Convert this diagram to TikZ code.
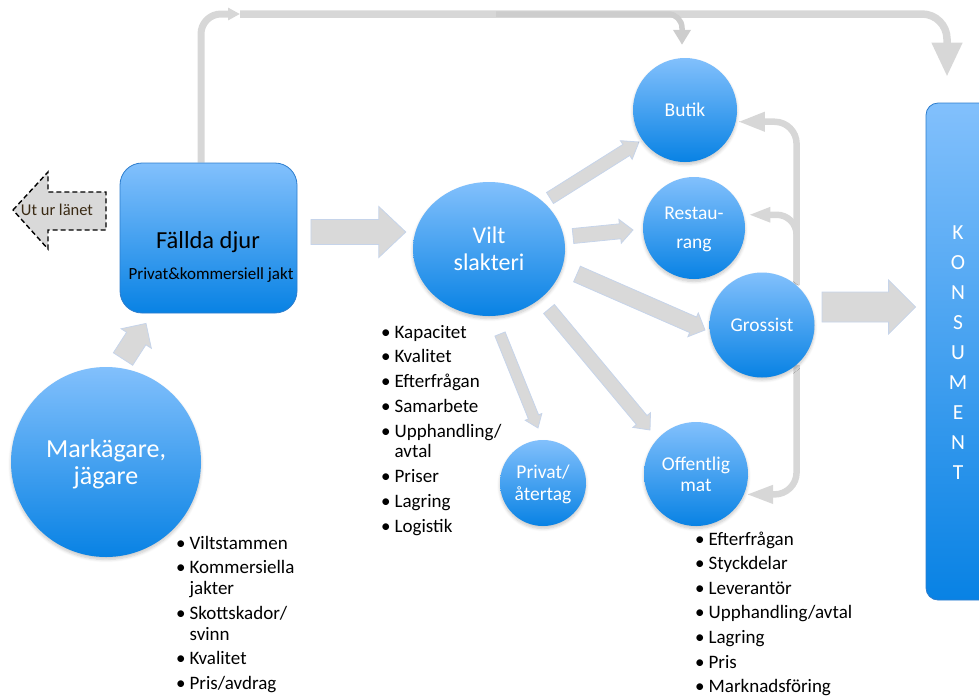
\documentclass[tikz,border=0pt]{standalone}
\usepackage{fontspec}
\setmainfont{Carlito}
\usetikzlibrary{calc,arrows.meta,shapes.geometric,shadows.blur}

\definecolor{bluetop}{RGB}{130,192,252}
\definecolor{bluebot}{RGB}{8,130,228}
\definecolor{blueedge}{RGB}{45,125,205}
\definecolor{flowgray}{RGB}{217,217,217}
\definecolor{flowedge}{RGB}{198,212,234}
\definecolor{linkgray}{RGB}{215,215,215}
\definecolor{branchgray}{RGB}{205,205,205}
\definecolor{outtext}{RGB}{58,42,20}

\pgfdeclarelayer{background}
\pgfsetlayers{background,main}

\tikzset{
  bubble/.style={circle, inner sep=0pt, top color=bluetop, bottom color=bluebot,
    text=white, align=center, text depth=0pt,
    blur shadow={shadow xshift=0pt, shadow yshift=-2.5pt, shadow blur radius=3pt,
      shadow blur steps=6, shadow opacity=22}},
  bluebox/.style={rectangle, inner sep=0pt, top color=bluetop, bottom color=bluebot,
    draw=blueedge, line width=0.8pt},
  blockfill/.style={fill=flowgray, draw=flowedge, line width=0.8pt, line join=miter},
  link/.style={draw=linkgray, line width=6.5pt},
  listtext/.style={inner sep=0pt, anchor=base west, font=\fontsize{19}{21}\selectfont},
}

% block arrow: #1 start, #2 tip, #3 half shaft width, #4 half head width, #5 head length
\newcommand{\flowarrow}[5]{%
  \coordinate (fa-h) at ($(#2)!#5!(#1)$);
  \filldraw[blockfill]
    ($(#1)!#3!90:(#2)$) -- ($(fa-h)!#3!90:(#2)$) -- ($(fa-h)!#4!90:(#2)$) -- (#2)
    -- ($(fa-h)!#4!-90:(#2)$) -- ($(fa-h)!#3!-90:(#2)$) -- ($(#1)!#3!-90:(#2)$) -- cycle;
}

\begin{document}
\begin{tikzpicture}[x=1pt, y=-1pt]
\useasboundingbox (0,0) rectangle (979,697);

% ---- main nodes ----
\node[bluebox, rounded corners=22pt, minimum width=177pt, minimum height=150pt] (fallda) at (208.5,238) {};
\node[anchor=base, inner sep=0pt, font=\fontsize{24.5}{26}\selectfont] (fallda-title) at (208,248) {Fällda djur};
\node[anchor=base, inner sep=0pt, font=\fontsize{17}{19}\selectfont] (fallda-sub) at (211,279) {Privat\&kommersiell jakt};

\node[bubble, minimum size=190pt, font=\fontsize{26}{27}\selectfont] (mark) at (106,462) {Markägare,\\jägare};
\node[bubble, ellipse, minimum width=152pt, minimum height=134pt, font=\fontsize{24}{27}\selectfont] (vilt) at (489,249) {Vilt\\slakteri};
\node[bubble, minimum size=104pt, font=\fontsize{19.5}{22}\selectfont] (butik) at (685,110) {Butik};
\node[bubble, minimum size=102pt, font=\fontsize{19.5}{29}\selectfont] (rest) at (694,228) {Restau-\\rang};
\node[bubble, minimum size=105pt, font=\fontsize{19.5}{22}\selectfont] (gross) at (762,325) {Grossist};
\node[bubble, minimum size=104pt, font=\fontsize{19.5}{21}\selectfont] (offen) at (696,474) {Offentlig\\mat};
\node[bubble, minimum size=86pt, font=\fontsize{19.5}{22}\selectfont] (privat) at (543,483) {Privat/\\återtag};

\node[bluebox, rounded corners=12pt, minimum width=90pt, minimum height=497pt] (kons) at (971,351.5) {};
\node[text=white, align=center, inner sep=0pt, font=\fontsize{21.5}{30}\selectfont] (kons-text) at (958,353) {K\\O\\N\\S\\U\\M\\E\\N\\T};

% ---- outgoing arrow to the left ----
\filldraw[fill=flowgray, draw=black, line width=1.4pt, dash pattern=on 5pt off 3pt]
  (13,210) -- (48,172) -- (48,192) -- (106,192) -- (106,230) -- (48,230) -- (48,249) -- cycle;
\node[text=outtext, inner sep=0pt, font=\fontsize{16.5}{18}\selectfont] (utur) at (57,210) {Ut ur länet};

% ---- bullet lists ----
\node[listtext] (mark-list) at (176,549) {\begin{tabular}[t]{@{}l@{\hspace{4pt}}l@{}}
\textbullet & Viltstammen\\[3.5pt]
\textbullet & Kommersiella\\
 & jakter\\[3.5pt]
\textbullet & Skottskador/\\
 & svinn\\[3.5pt]
\textbullet & Kvalitet\\[3.5pt]
\textbullet & Pris/avdrag
\end{tabular}};

\node[listtext, font=\fontsize{19}{20.5}\selectfont] (vilt-list) at (381,338) {\begin{tabular}[t]{@{}l@{\hspace{4pt}}l@{}}
\textbullet & Kapacitet\\[4.3pt]
\textbullet & Kvalitet\\[4.3pt]
\textbullet & Efterfrågan\\[4.3pt]
\textbullet & Samarbete\\[4.3pt]
\textbullet & Upphandling/\\
 & avtal\\[4.3pt]
\textbullet & Priser\\[4.3pt]
\textbullet & Lagring\\[4.3pt]
\textbullet & Logistik
\end{tabular}};

\node[listtext, font=\fontsize{19}{24.6}\selectfont] (offen-list) at (695,545) {\begin{tabular}[t]{@{}l@{\hspace{4pt}}l@{}}
\textbullet & Efterfrågan\\
\textbullet & Styckdelar\\
\textbullet & Leverantör\\
\textbullet & Upphandling/avtal\\
\textbullet & Lagring\\
\textbullet & Pris\\
\textbullet & Marknadsföring
\end{tabular}};

% ---- connectors, kept behind the shapes ----
\begin{pgfonlayer}{background}
  % block arrows of the main flow
  \coordinate (fv-s) at ($(fallda.east)+(13.5pt,6pt)$);
  \coordinate (fv-e) at ($(vilt.west)+(-7pt,17pt)$);
  \flowarrow{fv-s}{fv-e}{12.5pt}{25.5pt}{27pt}

  \coordinate (mf-s) at ($(mark.center)+(17pt,103pt)$);
  \coordinate (mf-e) at ($(fallda.south)+(-62.5pt,-10pt)$);
  \flowarrow{mf-s}{mf-e}{11.5pt}{18pt}{18pt}

  \coordinate (vb-s) at ($(vilt.center)+(61pt,51pt)$);
  \coordinate (vb-e) at ($(butik.center)+(-46pt,-32pt)$);
  \flowarrow{vb-s}{vb-e}{6.5pt}{11pt}{15pt}

  \coordinate (vr-s) at ($(vilt.center)+(84pt,13pt)$);
  \coordinate (vr-e) at ($(rest.center)+(-61pt,-2pt)$);
  \flowarrow{vr-s}{vr-e}{7.5pt}{12pt}{13pt}

  \coordinate (vg-s) at ($(vilt.center)+(88pt,-25pt)$);
  \coordinate (vg-e) at ($(gross.center)+(-57pt,-5pt)$);
  \flowarrow{vg-s}{vg-e}{8.5pt}{13pt}{13pt}

  \coordinate (vo-s) at ($(vilt.center)+(60pt,-60pt)$);
  \coordinate (vo-e) at ($(offen.center)+(-46pt,44pt)$);
  \flowarrow{vo-s}{vo-e}{7pt}{11.5pt}{13pt}

  \coordinate (vp-s) at ($(vilt.center)+(11pt,-85pt)$);
  \coordinate (vp-e) at ($(privat.center)+(-5pt,55pt)$);
  \flowarrow{vp-s}{vp-e}{5.5pt}{9pt}{12pt}

  \coordinate (gk-s) at ($(gross.center)+(60pt,18pt)$);
  \coordinate (gk-e) at ($(kons.west)+(-10pt,44.5pt)$);
  \flowarrow{gk-s}{gk-e}{15pt}{27pt}{27pt}

  % direct sales line over the top
  \coordinate (top-a) at (240,14);
  \coordinate (top-b) at (496,14);
  \coordinate (kons-in) at ($(kons.north)+(-24pt,26pt)$);
  \coordinate (butik-in) at ($(butik.north)+(-3pt,13pt)$);
  \draw[link, line width=7pt, rounded corners=20pt, -{Triangle[width=12pt,length=12pt]}]
    ($(fallda.north)+(-7.5pt,0)$) |- (top-a);
  \draw[link, line width=7.5pt, rounded corners=25pt, -{Triangle[width=29pt,length=34pt]}]
    (top-a) -| (kons-in);
  \draw[link, draw=branchgray, line width=5.5pt, rounded corners=14pt, -{Triangle[width=17pt,length=15pt]}]
    (top-b) -| (butik-in);

  % wholesaler deliveries
  \draw[link, rounded corners=22pt, -{Triangle[width=18pt,length=27pt]}]
    (gross.49) |- ($(butik.-13)+(2pt,0)$);
  \draw[link, rounded corners=20pt, -{Triangle[width=14pt,length=22pt]}]
    (gross.49) |- ($(rest.15)+(5pt,0)$);
  \draw[link, rounded corners=22pt, -{Triangle[width=17pt,length=27pt]}]
    (gross.-49) |- ($(offen.-23)+(2pt,0)$);
\end{pgfonlayer}
\end{tikzpicture}
\end{document}
